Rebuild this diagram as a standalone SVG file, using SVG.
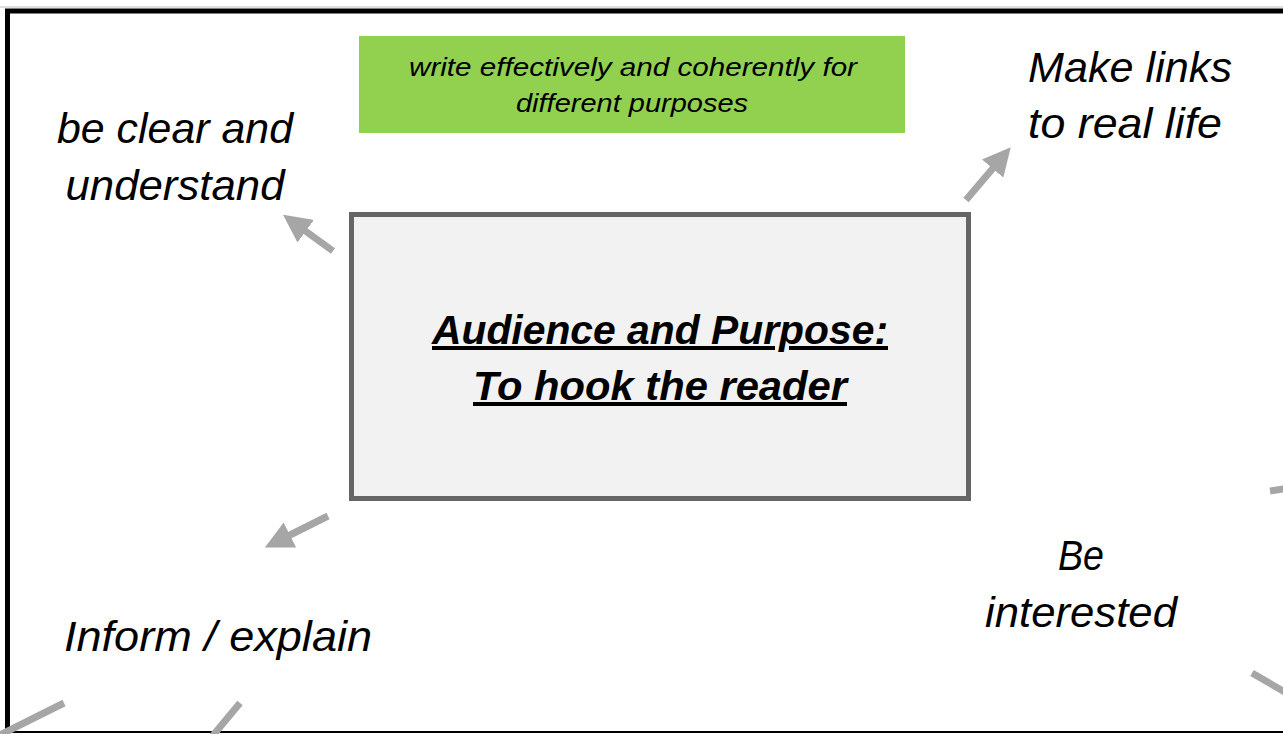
<svg xmlns="http://www.w3.org/2000/svg" width="1283" height="734" viewBox="0 0 1283 734">
<style>
.lbl{font-family:"Liberation Sans",Arial,sans-serif;font-style:italic;font-size:43px;fill:#000}
.ctr{text-anchor:middle}
.main{font-family:"Liberation Sans",Arial,sans-serif;font-style:italic;font-weight:bold;font-size:40px;fill:#000;text-anchor:middle;text-decoration:underline}
.small{font-family:"Liberation Sans",Arial,sans-serif;font-style:italic;font-size:25px;fill:#000;text-anchor:middle}
.conn{stroke:#a6a6a6;stroke-width:7;fill:none}
</style>
<defs>
<marker id="ah" markerUnits="strokeWidth" markerWidth="4.2" markerHeight="4" refX="0.3" refY="2" orient="auto" viewBox="0 0 4.2 4">
<path d="M0,0 L4,2 L0,4 z" fill="#a6a6a6"/>
</marker>
</defs>
<rect x="0" y="0" width="1283" height="734" fill="#fff"/>
<line x1="0" y1="7" x2="1283" y2="7" stroke="#bfbfbf" stroke-width="1"/>
<path d="M1290,11 H7.5 V731" fill="none" stroke="#000" stroke-width="5"/>
<line x1="5" y1="732" x2="1283" y2="732" stroke="#000" stroke-width="2"/>
<g id="title">
<rect x="359" y="36" width="546" height="97" fill="#92d050"/>
<text class="small" x="633" y="76" textLength="448" lengthAdjust="spacingAndGlyphs">write effectively and coherently for</text>
<text class="small" x="632" y="112" textLength="232" lengthAdjust="spacingAndGlyphs">different purposes</text>
</g>
<g id="center">
<rect x="351.5" y="214.5" width="617" height="284" fill="#f2f2f2" stroke="#666" stroke-width="5"/>
<text class="main" x="660" y="344" textLength="456" lengthAdjust="spacingAndGlyphs">Audience and Purpose:</text>
<text class="main" x="660" y="400" textLength="374" lengthAdjust="spacingAndGlyphs">To hook the reader</text>
</g>
<g id="clear">
<text class="lbl ctr" x="175" y="143" textLength="236" lengthAdjust="spacingAndGlyphs">be clear and</text>
<text class="lbl ctr" x="175" y="200" textLength="219" lengthAdjust="spacingAndGlyphs">understand</text>
</g>
<g id="links">
<text class="lbl" x="1028" y="82" textLength="204" lengthAdjust="spacingAndGlyphs">Make links</text>
<text class="lbl" x="1028" y="138" textLength="194" lengthAdjust="spacingAndGlyphs">to real life</text>
</g>
<g id="inform">
<text class="lbl" x="64" y="651" textLength="308" lengthAdjust="spacingAndGlyphs">Inform / explain</text>
</g>
<g id="interested">
<text class="lbl ctr" x="1081" y="570" textLength="46" lengthAdjust="spacingAndGlyphs">Be</text>
<text class="lbl ctr" x="1081" y="627" textLength="192" lengthAdjust="spacingAndGlyphs">interested</text>
</g>
<g id="connectors">
<line class="conn" x1="333" y1="251" x2="304" y2="230" marker-end="url(#ah)"/>
<line class="conn" x1="966" y1="200" x2="994" y2="167" marker-end="url(#ah)"/>
<line class="conn" x1="328" y1="516" x2="288" y2="536" marker-end="url(#ah)"/>
<line class="conn" x1="64" y1="703" x2="-10" y2="740"/>
<line class="conn" x1="240" y1="703" x2="205" y2="745"/>
<line class="conn" x1="1270" y1="491" x2="1290" y2="488"/>
<line class="conn" x1="1252" y1="673" x2="1290" y2="695"/>
</g>
</svg>
